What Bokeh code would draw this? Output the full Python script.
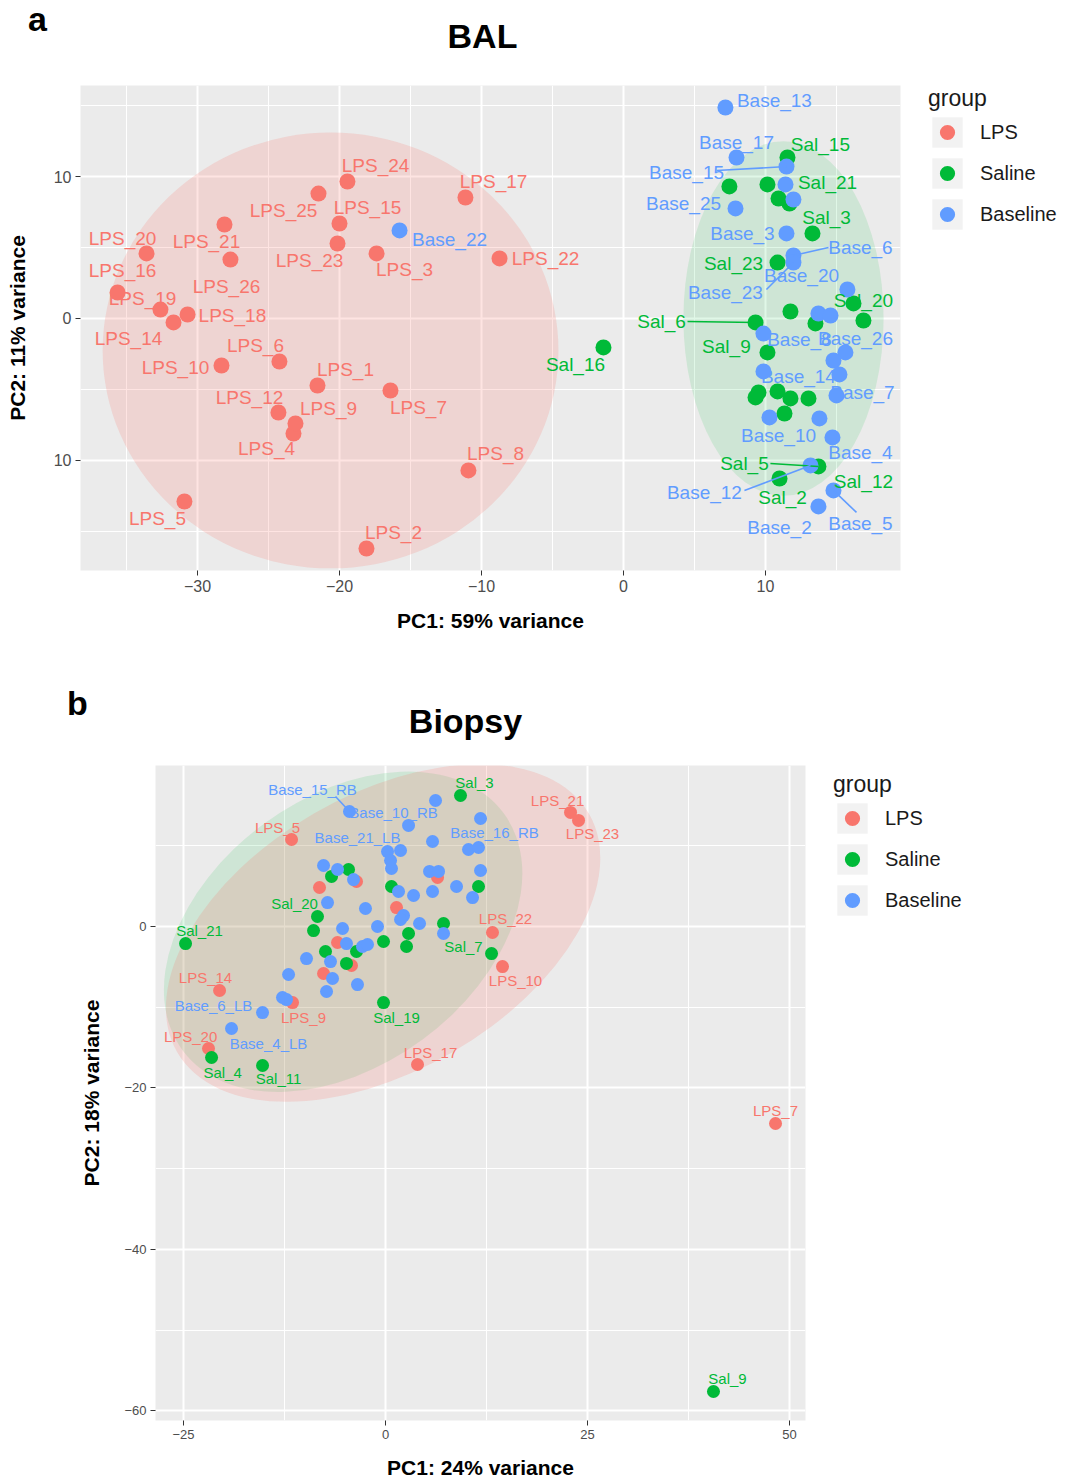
import numpy as np
from bokeh.plotting import figure
from bokeh.layouts import row
from bokeh.models import ColumnDataSource, Legend, LegendItem, FixedTicker, Range1d
from bokeh.core.properties import value
from bokeh.embed import file_html
from bokeh.resources import INLINE

FONT = "Liberation Sans"
GROUPS = ["LPS", "Saline", "Baseline"]
GROUP_COLORS = {"LPS": "#F8766D", "Saline": "#00BA38", "Baseline": "#619CFF"}

# ================= Panel a : BAL =================
bal_lps_x = [-21.55, -18.10, -17.39, -23.24, -30.92, -24.23, -16.41, -10.92, -23.10, -28.31, -24.30, -31.69,
             -20.00, -35.63, -11.13, -30.70, -32.61, -33.59, -28.10, -8.73, -20.14, -19.44, -21.48, -27.68]
bal_lps_y = [-4.72, -16.20, 4.58, -8.10, -12.89, -3.03, -5.07, -10.70, -7.39, -3.31, -6.62, -0.28,
             6.69, 1.83, 8.52, 0.28, 0.63, 4.58, 6.62, 4.23, 5.28, 9.65, 8.80, 4.15]
bal_sal_x = [11.55, 7.46, 10.14, 10.92, 11.69, 13.31, 10.85, 16.20, 11.76, 13.52, 16.90, 9.30, 10.14,
             9.30, 9.51, 10.85, 11.76, 13.03, 11.34, 13.73, 10.99, -1.41]
bal_sal_y = [11.34, 9.30, 9.44, 8.45, 8.10, 5.99, 3.94, 1.06, 0.49, -0.35, -0.14, -0.28, -2.39,
             -5.56, -5.21, -5.14, -5.63, -5.63, -6.69, -10.42, -11.27, -2.04]
bal_base_x = [7.18, 7.96, 11.48, 11.41, 11.97, 7.89, 11.48, 11.97, 11.97, 15.77, 13.73, 14.58, 9.86,
              15.63, 14.79, 9.86, 15.21, 15.00, 10.28, 13.80, 14.72, 13.17, 14.79, 13.73, -15.77]
bal_base_y = [14.86, 11.34, 10.70, 9.44, 8.38, 7.75, 5.99, 4.44, 3.94, 2.04, 0.35, 0.21, -1.06,
              -2.39, -2.96, -3.73, -3.94, -5.42, -6.97, -7.04, -8.38, -10.35, -12.11, -13.24, 6.20]

bal_label_text = ["LPS_20", "LPS_16", "LPS_19", "LPS_14", "LPS_18", "LPS_21", "LPS_26", "LPS_25", "LPS_24",
                  "LPS_15", "LPS_23", "LPS_3", "LPS_17", "LPS_22", "LPS_10", "LPS_6", "LPS_1", "LPS_12",
                  "LPS_9", "LPS_4", "LPS_5", "LPS_8", "LPS_2", "LPS_7",
                  "Sal_16", "Sal_15", "Sal_21", "Sal_3", "Sal_23", "Sal_20", "Sal_6", "Sal_9", "Sal_5",
                  "Sal_2", "Sal_12",
                  "Base_22", "Base_13", "Base_17", "Base_15", "Base_25", "Base_3", "Base_6", "Base_23",
                  "Base_20", "Base_8", "Base_26", "Base_14", "Base_7", "Base_10", "Base_4", "Base_12",
                  "Base_5", "Base_2"]
bal_label_x = [-35.28, -35.28, -33.87, -34.86, -27.54, -29.37, -27.96, -23.94, -17.46,
               -18.03, -22.11, -15.42, -9.15, -5.49, -31.55, -25.92, -19.58, -26.34,
               -20.77, -25.14, -32.82, -9.01, -16.20, -14.44,
               -3.38, 13.87, 14.37, 14.30, 7.75, 16.90, 2.68, 7.25, 8.52,
               11.20, 16.90,
               -12.25, 10.63, 7.96, 4.44, 4.23, 8.38, 16.69, 7.18,
               12.54, 12.39, 16.34, 12.32, 16.83, 10.92, 16.69, 5.70,
               16.69, 10.99]
bal_label_y = [5.63, 3.38, 1.41, -1.41, 0.21, 5.42, 2.25, 7.61, 10.77,
               7.82, 4.08, 3.45, 9.65, 4.23, -3.45, -1.90, -3.59, -5.56,
               -6.34, -9.15, -14.08, -9.51, -15.07, -6.27,
               -3.24, 12.25, 9.58, 7.11, 3.87, 1.27, -0.21, -1.97, -10.21,
               -12.61, -11.48,
               5.56, 15.35, 12.39, 10.28, 8.10, 5.99, 5.00, 1.83,
               3.03, -1.48, -1.41, -4.08, -5.21, -8.24, -9.44, -12.25,
               -14.44, -14.72]

# leader lines (label end -> sample)
bal_seg_group = ["Baseline", "Baseline", "Baseline", "Saline", "Saline", "Baseline", "Baseline"]
bal_seg_x0 = [6.55, 14.44, 10.07, 4.51, 10.35, 8.52, 14.79]
bal_seg_y0 = [10.42, 5.00, 2.04, -0.21, -10.21, -12.11, -12.11]
bal_seg_x1 = [11.48, 11.97, 11.97, 9.30, 13.73, 13.17, 16.41]
bal_seg_y1 = [10.70, 4.44, 3.94, -0.28, -10.42, -10.35, -13.66]

# confidence ellipses: group, centre x, centre y, width, height, angle (deg)
bal_ell_group = ["LPS", "Saline"]
bal_ell_cx = [-20.63, 11.27]
bal_ell_cy = [-2.25, 0.0]
bal_ell_w = [32.1, 14.1]
bal_ell_h = [30.7, 25.0]
bal_ell_angle = [0.0, 0.0]

# ================= Panel b : Biopsy =================
bio_lps_x = [-11.63, 22.90, 23.89, -3.59, -8.17, 6.44, 1.36, 13.24, -5.94, -4.21, -7.67, 14.48,
             -20.54, -11.51, -21.91, 3.96, 48.27]
bio_lps_y = [10.78, 14.13, 13.14, 5.58, 4.83, 6.07, 2.35, -0.74, -1.98, -4.83, -5.82, -4.96,
             -7.93, -9.42, -15.12, -17.10, -24.41]
bio_sal_x = [9.28, -4.58, -6.68, 0.74, 11.51, -8.42, -8.91, 7.18, 2.85, -0.25, 2.60, -3.59, -7.43,
             -4.83, -24.75, 13.12, -0.25, -21.53, -15.22, 40.59]
bio_sal_y = [16.23, 7.06, 6.20, 4.96, 4.96, 1.24, -0.50, 0.37, -0.87, -1.86, -2.48, -3.10, -3.10,
             -4.58, -2.11, -3.35, -9.42, -16.23, -17.22, -57.62]
bio_base_x = [-4.46, 6.19, 2.85, 11.76, 5.82, 0.25, 1.86, 0.62, 0.74, 10.27, 11.51, 11.76, 5.45, 6.56,
              -7.67, -5.94, -3.96, 1.61, 3.47, 5.82, 8.79, 10.77, -7.18, -2.48, 2.23, 1.86, 4.21,
              -0.99, -5.32, 7.18, -4.83, -2.85, -2.23, -9.78, -6.81, -12.00, -6.56, -3.47, -7.30,
              -12.75, -12.25, -15.22, -19.06]
bio_base_y = [14.25, 15.61, 12.52, 13.38, 10.53, 9.29, 9.42, 8.18, 7.19, 9.54, 9.79, 6.94, 6.82, 6.82,
              7.56, 7.06, 5.82, 4.34, 3.84, 4.34, 4.96, 3.59, 2.97, 2.23, 1.36, 0.87, 0.37,
              0.00, -0.25, -0.87, -2.11, -2.48, -2.23, -3.97, -4.34, -5.95, -6.44, -7.19, -8.05,
              -8.80, -9.05, -10.66, -12.64]

bio_label_text = ["LPS_5", "LPS_21", "LPS_23", "LPS_22", "LPS_10", "LPS_14", "LPS_9", "LPS_20", "LPS_17",
                  "LPS_7",
                  "Sal_3", "Sal_20", "Sal_21", "Sal_7", "Sal_19", "Sal_4", "Sal_11", "Sal_9",
                  "Base_15_RB", "Base_10_RB", "Base_21_LB", "Base_16_RB", "Base_6_LB", "Base_4_LB"]
bio_label_x = [-13.37, 21.29, 25.62, 14.85, 16.09, -22.28, -10.15, -24.13, 5.57,
               48.27,
               11.01, -11.26, -23.02, 9.65, 1.36, -20.17, -13.24, 42.33,
               -9.03, 0.99, -3.47, 13.49, -21.29, -14.48]
bio_label_y = [12.27, 15.61, 11.52, 0.99, -6.69, -6.32, -11.28, -13.63, -15.61,
               -22.80,
               17.84, 2.85, -0.50, -2.48, -11.28, -18.09, -18.84, -56.01,
               16.98, 14.13, 11.03, 11.65, -9.79, -14.50]

bio_seg_group = ["Baseline"]
bio_seg_x0 = [-6.19]
bio_seg_y0 = [16.11]
bio_seg_x1 = [-4.46]
bio_seg_y1 = [14.25]

bio_ell_group = ["Saline", "LPS"]
bio_ell_cx = [-5.25, -0.3]
bio_ell_cy = [-0.65, -0.8]
bio_ell_w = [49.4, 58.9]
bio_ell_h = [33.2, 34.2]
bio_ell_angle = [36.4, 30.1]


def label_group(name):
    if name.startswith("LPS"):
        return "LPS"
    if name.startswith("Sal"):
        return "Saline"
    return "Baseline"


def bare_figure(width, height, xr, yr, top=0, bottom=0):
    f = figure(width=width, height=height, x_range=Range1d(*xr), y_range=Range1d(*yr),
               x_axis_type=None, y_axis_type=None, output_backend="svg", toolbar_location=None,
               min_border=0, min_border_left=0, min_border_right=0,
               min_border_top=top, min_border_bottom=bottom)
    f.outline_line_color = None
    f.background_fill_color = "white"
    f.border_fill_color = "white"
    return f


def make_header(height, texts, xs, ys, size):
    h = bare_figure(1082, height, (0, 1082), (height, 0))
    h.text(x=xs, y=ys, text=texts, text_font=value(FONT), text_font_size=size, text_font_style="bold",
           text_color="black", text_align="center", text_baseline="middle")
    return h


def make_legend(width, height, top, bottom, location):
    f = bare_figure(width, height, (0, 1), (0, 1), top=top, bottom=bottom)
    key = f.quad(left=[np.nan], right=[np.nan], top=[np.nan], bottom=[np.nan],
                 fill_color="#F2F2F2", line_color=None)
    items = []
    for g in GROUPS:
        r = f.scatter([np.nan], [np.nan], size=10, marker="circle", fill_color=GROUP_COLORS[g],
                      line_color=None)
        items.append(LegendItem(label=g, renderers=[key, r]))
    legend = Legend(items=items, location=location, title="group",
                    title_text_font=FONT, title_text_font_size="23px", title_text_color="#1A1A1A",
                    title_text_font_style="normal", title_standoff=1,
                    label_text_font=FONT, label_text_font_size="20px", label_text_color="#1A1A1A",
                    glyph_width=38, glyph_height=38, spacing=3, padding=0, label_standoff=14,
                    margin=0, background_fill_color="white", border_line_color=None)
    f.add_layout(legend)
    return f


def make_panel(cfg):
    p = figure(width=cfg["width"], height=cfg["height"], x_range=Range1d(*cfg["xr"]),
               y_range=Range1d(*cfg["yr"]), output_backend="svg", toolbar_location=None,
               min_border_left=cfg["bl"], min_border_right=cfg["br"],
               min_border_top=cfg["bt"], min_border_bottom=cfg["bb"])
    p.outline_line_color = None
    p.background_fill_color = "#EBEBEB"
    p.border_fill_color = "white"
    p.xaxis.ticker = FixedTicker(ticks=cfg["xt"], minor_ticks=cfg["xmt"])
    p.yaxis.ticker = FixedTicker(ticks=cfg["yt"], minor_ticks=cfg["ymt"])
    p.xaxis.major_label_overrides = cfg["xlab"]
    p.yaxis.major_label_overrides = cfg["ylab"]
    for g in (p.xgrid, p.ygrid):
        g.grid_line_color = "white"
        g.grid_line_width = 2
        g.minor_grid_line_color = "white"
        g.minor_grid_line_width = 1
    for ax in (p.xaxis, p.yaxis):
        ax.axis_line_color = None
        ax.major_tick_line_color = "#333333"
        ax.major_tick_out = 5
        ax.major_tick_in = 0
        ax.minor_tick_line_color = None
        ax.major_label_text_font = FONT
        ax.major_label_text_font_size = cfg["tickfs"]
        ax.major_label_text_color = "#4D4D4D"
        ax.axis_label_text_font = FONT
        ax.axis_label_text_font_style = "bold"
        ax.axis_label_text_font_size = "21px"
        ax.axis_label_text_color = "black"
    p.xaxis.major_label_standoff = 4
    p.yaxis.major_label_standoff = 4
    p.xaxis.axis_label = cfg["xtitle"]
    p.yaxis.axis_label = cfg["ytitle"]
    p.xaxis.axis_label_standoff = cfg["xstand"]
    p.yaxis.axis_label_standoff = cfg["ystand"]

    e = cfg["ell"]
    p.ellipse(x="x", y="y", width="w", height="h", angle="a", fill_color="c", fill_alpha="al",
              line_color=None,
              source=ColumnDataSource(dict(x=e["cx"], y=e["cy"], w=e["w"], h=e["h"],
                                           a=[np.deg2rad(v) for v in e["angle"]],
                                           c=[GROUP_COLORS[g] for g in e["group"]],
                                           al=[cfg["ell_alpha"][g] for g in e["group"]])))

    for g in GROUPS:
        xs, ys = cfg["pts"][g]
        p.scatter(xs, ys, size=cfg["ptsize"], marker="circle", fill_color=GROUP_COLORS[g], line_color=None)

    s = cfg["seg"]
    p.segment(x0="x0", y0="y0", x1="x1", y1="y1", line_color="c", line_width=1.6,
              source=ColumnDataSource(dict(x0=s["x0"], y0=s["y0"], x1=s["x1"], y1=s["y1"],
                                           c=[GROUP_COLORS[g] for g in s["group"]])))

    lt = cfg["labels"]
    p.text(x="x", y="y", text="t", text_color="c", text_font=value(FONT), text_font_size=cfg["labfs"],
           text_align="center", text_baseline="middle",
           source=ColumnDataSource(dict(x=lt["x"], y=lt["y"], t=lt["text"],
                                        c=[GROUP_COLORS[label_group(n)] for n in lt["text"]])))
    return p


ha = make_header(60, ["a", "BAL"], [37, 482], [18, 35], "34px")

pa = make_panel(dict(
    width=928, height=590, xr=(-38.24, 19.51), yr=(-17.75, 16.41), bl=80, br=28, bt=25, bb=80,
    xt=[-30, -20, -10, 0, 10], xmt=[-35, -25, -15, -5, 5, 15],
    yt=[-10, 0, 10], ymt=[-15, -5, 5, 15],
    xlab={-30: "\u221230", -20: "\u221220", -10: "\u221210", 0: "0", 10: "10"},
    ylab={-10: "10", 0: "0", 10: "10"},
    tickfs="16px", xtitle="PC1: 59% variance", ytitle="PC2: 11% variance", xstand=14, ystand=22,
    ell=dict(group=bal_ell_group, cx=bal_ell_cx, cy=bal_ell_cy, w=bal_ell_w, h=bal_ell_h,
             angle=bal_ell_angle),
    ell_alpha={"LPS": 0.2, "Saline": 0.12, "Baseline": 0.12},
    pts={"LPS": (bal_lps_x, bal_lps_y), "Saline": (bal_sal_x, bal_sal_y),
         "Baseline": (bal_base_x, bal_base_y)},
    ptsize=16,
    seg=dict(group=bal_seg_group, x0=bal_seg_x0, y0=bal_seg_y0, x1=bal_seg_x1, y1=bal_seg_y1),
    labels=dict(text=bal_label_text, x=bal_label_x, y=bal_label_y), labfs="19px",
))
la = make_legend(154, 590, 25, 80, "top_left")

hb = make_header(95, ["b", "Biopsy"], [77, 465], [52, 70], "34px")

pb = make_panel(dict(
    width=833, height=737, xr=(-28.47, 51.98), yr=(-61.21, 19.95), bl=155, br=28, bt=20, bb=62,
    xt=[-25, 0, 25, 50], xmt=[-12.5, 12.5, 37.5],
    yt=[-60, -40, -20, 0], ymt=[-50, -30, -10, 10],
    xlab={}, ylab={},
    tickfs="13px", xtitle="PC1: 24% variance", ytitle="PC2: 18% variance", xstand=14, ystand=18,
    ell=dict(group=bio_ell_group, cx=bio_ell_cx, cy=bio_ell_cy, w=bio_ell_w, h=bio_ell_h,
             angle=bio_ell_angle),
    ell_alpha={"LPS": 0.2, "Saline": 0.12, "Baseline": 0.1},
    pts={"LPS": (bio_lps_x, bio_lps_y), "Saline": (bio_sal_x, bio_sal_y),
         "Baseline": (bio_base_x, bio_base_y)},
    ptsize=13,
    seg=dict(group=bio_seg_group, x0=bio_seg_x0, y0=bio_seg_y0, x1=bio_seg_x1, y1=bio_seg_y1),
    labels=dict(text=bio_label_text, x=bio_label_x, y=bio_label_y), labfs="15px",
))
lb = make_legend(249, 737, 20, 62, (0, 501))

open("out.html", "w").write(file_html([ha, row(pa, la), hb, row(pb, lb)], INLINE))
